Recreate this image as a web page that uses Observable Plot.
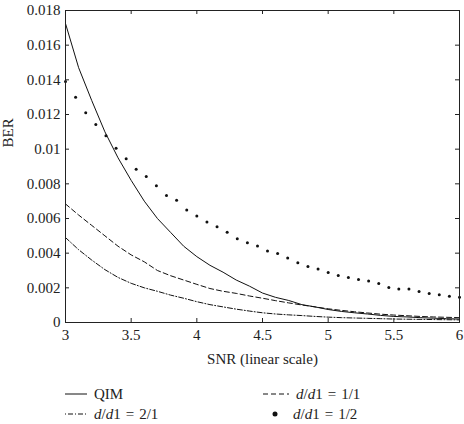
<!DOCTYPE html>
<html>
<head>
<meta charset="utf-8">
<script src="https://cdn.jsdelivr.net/npm/d3@7"></script>
<script src="https://cdn.jsdelivr.net/npm/@observablehq/plot@0.6"></script>
<style>
  body { margin: 0; background: #fff; }
  #chart { width: 464px; height: 424px; font-family: "Liberation Serif", "DejaVu Serif", serif; color: #222; }
  #chart svg { display: block; }
</style>
</head>
<body>
<div id="chart"></div>
<script>
// SNR grid for the three simulated curves
const snr = [3.0, 3.1, 3.2, 3.3, 3.4, 3.5, 3.6, 3.7, 3.8, 3.9, 4.0, 4.1, 4.2, 4.3, 4.4, 4.5,
             4.6, 4.7, 4.8, 4.9, 5.0, 5.1, 5.2, 5.3, 5.4, 5.5, 5.6, 5.7, 5.8, 5.9, 6.0];

// BER of plain QIM
const berQIM = [0.01725, 0.0147, 0.0128, 0.0110, 0.0095, 0.0082, 0.0070, 0.0060, 0.0052, 0.0044,
                0.0038, 0.0033, 0.0029, 0.00245, 0.0021, 0.0017, 0.00145, 0.00127, 0.00103, 0.0009,
                0.00075, 0.00064, 0.00056, 0.00049, 0.00041, 0.00035, 0.00032, 0.00028, 0.00025, 0.00022, 0.0002];

// BER for d/d1 = 1/1
const berRatio11 = [0.00684, 0.0062, 0.0056, 0.0050, 0.0044, 0.0039, 0.0035, 0.0030, 0.0027, 0.00245,
                    0.0022, 0.00196, 0.0018, 0.00168, 0.00153, 0.0014, 0.00126, 0.00113, 0.00101, 0.0009,
                    0.00079, 0.0007, 0.00062, 0.00055, 0.00048, 0.00043, 0.00039, 0.00035, 0.00032, 0.0003, 0.00028];

// BER for d/d1 = 2/1
const berRatio21 = [0.0049, 0.0042, 0.0036, 0.00305, 0.0026, 0.00226, 0.0020, 0.0018, 0.00158, 0.0014,
                    0.0012, 0.00103, 0.0009, 0.00077, 0.00066, 0.00056, 0.00049, 0.00044, 0.0004, 0.00035,
                    0.00031, 0.00028, 0.00026, 0.00024, 0.00022, 0.0002, 0.00019, 0.00018, 0.00017, 0.00016, 0.00015];

// d/d1 = 1/2 is drawn as markers on its own 40-point SNR grid
const snrDots = [3.000, 3.077, 3.154, 3.231, 3.308, 3.385, 3.462, 3.538, 3.615, 3.692,
                 3.769, 3.846, 3.923, 4.000, 4.077, 4.154, 4.231, 4.308, 4.385, 4.462,
                 4.538, 4.615, 4.692, 4.769, 4.846, 4.923, 5.000, 5.077, 5.154, 5.231,
                 5.308, 5.385, 5.462, 5.538, 5.615, 5.692, 5.769, 5.846, 5.923, 6.000];
const berRatio12 = [0.0139, 0.0130, 0.0121, 0.01143, 0.01078, 0.01005, 0.00944, 0.00884, 0.00843, 0.00789,
                    0.00732, 0.00705, 0.00649, 0.00614, 0.0058, 0.00553, 0.0052, 0.00483, 0.0046, 0.00441,
                    0.00412, 0.00398, 0.00372, 0.00345, 0.00323, 0.00308, 0.00289, 0.00271, 0.0026, 0.00248,
                    0.00239, 0.00225, 0.00202, 0.00193, 0.00193, 0.00179, 0.00167, 0.0016, 0.00152, 0.00145];

// Axis ticks and their labels
const xTicks = [3, 3.5, 4, 4.5, 5, 5.5, 6];
const xTickLabels = ["3", "3.5", "4", "4.5", "5", "5.5", "6"];
const yTicks = [0, 0.002, 0.004, 0.006, 0.008, 0.01, 0.012, 0.014, 0.016, 0.018];
const yTickLabels = ["0", "0.002", "0.004", "0.006", "0.008", "0.01", "0.012", "0.014", "0.016", "0.018"];

const xLabel = "SNR (linear scale)";
const yLabel = "BER";

const W = 464, H = 372;
const mL = 65, mR = 5, mT = 10, mB = 50;
const frameW = W - mL - mR, frameH = H - mT - mB;
const tickLen = 4;
const ink = "#222";

const table = (xs, ys) => xs.map((x, i) => ({x, y: ys[i]}));

const plot = Plot.plot({
  width: W,
  height: H,
  marginLeft: mL,
  marginRight: mR,
  marginTop: mT,
  marginBottom: mB,
  style: {fontFamily: "'Liberation Serif', 'DejaVu Serif', serif", fontSize: "15px", color: ink, background: "#fff"},
  x: {domain: [3, 6]},
  y: {domain: [0, 0.018]},
  marks: [
    // curves
    Plot.line(table(snr, berQIM), {x: "x", y: "y", stroke: "#111", strokeWidth: 1}),
    Plot.line(table(snr, berRatio11), {x: "x", y: "y", stroke: "#111", strokeWidth: 1, strokeDasharray: "5,3"}),
    Plot.line(table(snr, berRatio21), {x: "x", y: "y", stroke: "#111", strokeWidth: 1, strokeDasharray: "5,2,1,2"}),
    Plot.dot(table(snrDots, berRatio12), {x: "x", y: "y", r: 1.5, fill: "#111", stroke: "none"}),
    // box with inward ticks on all four sides
    Plot.frame({stroke: ink, strokeWidth: 1}),
    Plot.tickX(xTicks, {x: d => d, insetTop: frameH - tickLen, stroke: ink}),
    Plot.tickX(xTicks, {x: d => d, insetBottom: frameH - tickLen, stroke: ink}),
    Plot.tickY(yTicks, {y: d => d, insetRight: frameW - tickLen, stroke: ink}),
    Plot.tickY(yTicks, {y: d => d, insetLeft: frameW - tickLen, stroke: ink}),
    // tick labels
    Plot.axisX(xTicks, {tickSize: 0, tickPadding: 7, label: null, fontSize: 15,
                        tickFormat: d => xTickLabels[xTicks.indexOf(d)]}),
    Plot.axisY(yTicks, {tickSize: 0, tickPadding: 5, label: null, fontSize: 15,
                        tickFormat: d => yTickLabels[yTicks.indexOf(d)]}),
    // axis titles
    Plot.text([xLabel], {frameAnchor: "bottom", dy: 37, text: d => d, fontSize: 15, fill: ink, lineAnchor: "middle"}),
    Plot.text([yLabel], {frameAnchor: "left", dx: -57, dy: -19, rotate: -90, text: d => d, fontSize: 15, fill: ink, lineAnchor: "middle"})
  ]
});

const chart = document.getElementById("chart");
chart.appendChild(plot);

// legend below the plot: two rows, two columns
const legendItems = [
  {label: [["QIM", false]], kind: "solid", sx: 65, tx: 94, row: 0},
  {label: [["d", true], ["/", false], ["d", true], ["1\u2004=\u20041/1", false]], kind: "dashed", sx: 263, tx: 296, row: 0},
  {label: [["d", true], ["/", false], ["d", true], ["1\u2004=\u20042/1", false]], kind: "dashdot", sx: 65, tx: 94, row: 1},
  {label: [["d", true], ["/", false], ["d", true], ["1\u2004=\u20041/2", false]], kind: "dot", sx: 275, tx: 293, row: 1}
];

const legend = d3.create("svg")
  .attr("width", W)
  .attr("height", 424 - H)
  .style("font-family", "'Liberation Serif', 'DejaVu Serif', serif")
  .style("font-size", "15px");

const rowLineY = [22, 42];
const rowBase = [27, 47];

for (const item of legendItems) {
  const ly = rowLineY[item.row];
  if (item.kind === "dot") {
    legend.append("circle").attr("cx", item.sx).attr("cy", ly).attr("r", 2.5).attr("fill", "#111");
  } else {
    const dash = item.kind === "dashed" ? "5,3" : item.kind === "dashdot" ? "1,2,5,2" : null;
    const len = item.kind === "dashed" ? 26 : 22;
    const ln = legend.append("line")
      .attr("x1", item.sx).attr("x2", item.sx + len)
      .attr("y1", ly).attr("y2", ly)
      .attr("stroke", "#111").attr("stroke-width", 1);
    if (dash) ln.attr("stroke-dasharray", dash);
  }
  const t = legend.append("text").attr("x", item.tx).attr("y", rowBase[item.row]).attr("fill", ink);
  for (const [s, italic] of item.label) {
    const sp = t.append("tspan").text(s);
    if (italic) sp.attr("font-style", "italic");
  }
}

chart.appendChild(legend.node());
</script>
</body>
</html>
